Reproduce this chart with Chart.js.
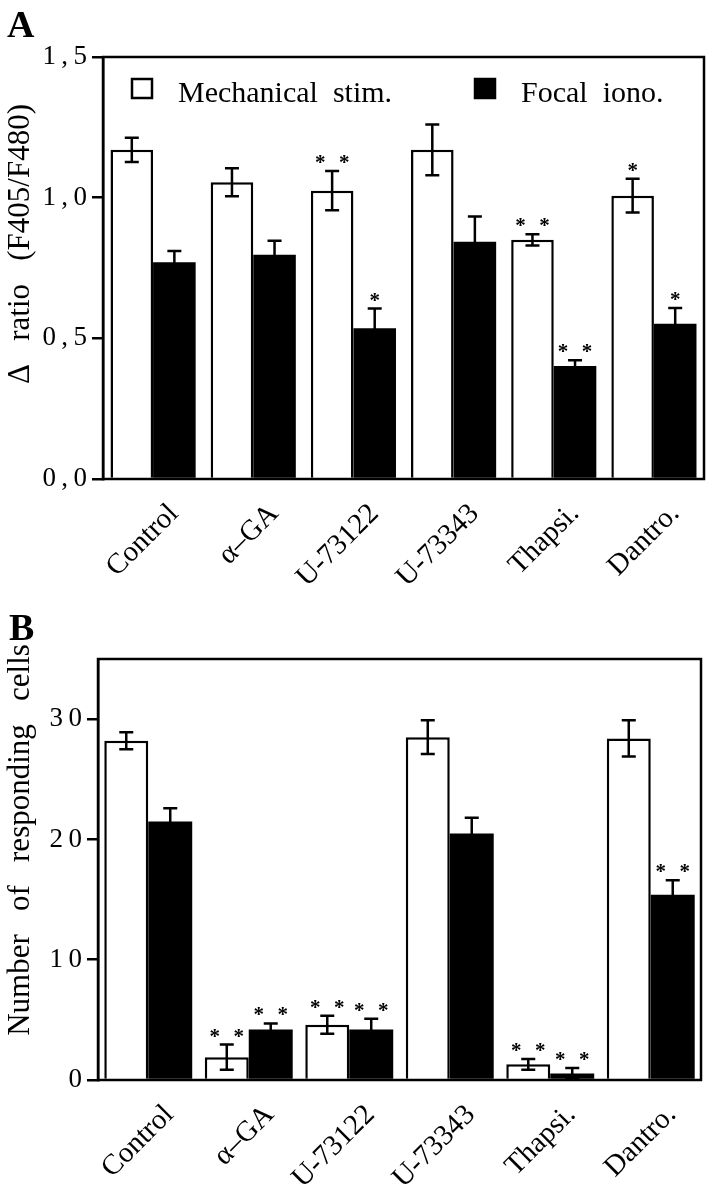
<!DOCTYPE html>
<html>
<head>
<meta charset="utf-8">
<script src="https://cdn.jsdelivr.net/npm/chart.js@4.4.0/dist/chart.umd.min.js"></script>
<style>
  body { margin: 0; background: #fff; }
  .panel { position: absolute; left: 0; width: 716px; height: 600px; }
</style>
</head>
<body>
<div class="panel" style="top:0"><canvas id="chartA" width="716" height="600"></canvas></div>
<div class="panel" style="top:600px"><canvas id="chartB" width="716" height="600"></canvas></div>
<script>
// Categories and series names
const categories = ['Control', 'α–GA', 'U-73122', 'U-73343', 'Thapsi.', 'Dantro.'];
const seriesNames = ['Mechanical stim.', 'Focal iono.'];

// Panel A: delta ratio (F405/F480)
const mechA = [1.17, 1.055, 1.025, 1.17, 0.85, 1.007];
const mechErrA = [0.043, 0.05, 0.07, 0.09, 0.02, 0.06];
const focalA = [0.77, 0.797, 0.536, 0.843, 0.402, 0.552];
const focalErrA = [0.04, 0.05, 0.07, 0.09, 0.02, 0.056];
const mechStarsA = [0, 0, 2, 0, 2, 1];
const focalStarsA = [0, 0, 1, 0, 2, 1];
const tickLabelsA = ['0,0', '0,5', '1,0', '1,5'];

// Panel B: number of responding cells
const mechB = [28.2, 1.9, 4.6, 28.5, 1.3, 28.4];
const mechErrB = [0.7, 1.05, 0.75, 1.4, 0.45, 1.5];
const focalB = [21.5, 4.2, 4.2, 20.5, 0.55, 15.4];
const focalErrB = [1.1, 0.5, 0.9, 1.3, 0.45, 1.2];
const mechStarsB = [0, 2, 2, 0, 2, 0];
const focalStarsB = [0, 2, 2, 0, 2, 2];
const tickLabelsB = ['0', '10', '20', '30'];

const SERIF = "'Liberation Serif', 'Times New Roman', serif";

// spread characters a bit, like the typeset labels
function spaced(s) {
    return s.split('').join('\u2009');
}

// error bars + significance stars
const errorBars = {
    id: 'errorBars',
    afterDatasetsDraw(chart) {
        const ctx = chart.ctx;
        const y = chart.scales.y;
        chart.data.datasets.forEach((ds, di) => {
            const meta = chart.getDatasetMeta(di);
            meta.data.forEach((bar, i) => {
                const v = ds.data[i], e = ds.errors[i];
                const top = y.getPixelForValue(v + e);
                const bot = y.getPixelForValue(v - e);
                ctx.save();
                ctx.strokeStyle = '#000';
                ctx.lineWidth = 2.5;
                ctx.beginPath();
                ctx.moveTo(bar.x, top); ctx.lineTo(bar.x, bot);
                ctx.moveTo(bar.x - 7, top); ctx.lineTo(bar.x + 7, top);
                ctx.moveTo(bar.x - 7, bot); ctx.lineTo(bar.x + 7, bot);
                ctx.stroke();
                const n = ds.stars[i];
                if (n) {
                    ctx.fillStyle = '#000';
                    ctx.font = 'bold 21px ' + SERIF;
                    ctx.textAlign = 'center';
                    ctx.textBaseline = 'alphabetic';
                    const xs = n === 2 ? [bar.x - 12, bar.x + 12] : [bar.x];
                    xs.forEach(sx => ctx.fillText('*', sx, top - 2));
                }
                ctx.restore();
            });
        });
    }
};

// box around the plot, panel letter, y title, inside legend
const decorations = {
    id: 'decorations',
    afterDraw(chart, args, opts) {
        const ctx = chart.ctx;
        const a = chart.chartArea;
        ctx.save();
        ctx.strokeStyle = '#000';
        ctx.lineWidth = 2.5;
        ctx.strokeRect(a.left, a.top, a.right - a.left, a.bottom - a.top);

        ctx.fillStyle = '#000';
        ctx.font = 'bold 38px ' + SERIF;
        ctx.textAlign = 'left';
        ctx.textBaseline = 'alphabetic';
        ctx.fillText(opts.letter, opts.letterX, opts.letterY);

        ctx.save();
        ctx.translate(21, opts.titleY);
        ctx.rotate(-Math.PI / 2);
        ctx.font = '31px ' + SERIF;
        ctx.textAlign = 'center';
        ctx.textBaseline = 'middle';
        ctx.fillText(opts.title, 0, 0);
        ctx.restore();

        if (opts.legend) {
            ctx.font = '30px ' + SERIF;
            ctx.textAlign = 'left';
            ctx.textBaseline = 'alphabetic';
            chart.data.datasets.forEach((ds, di) => {
                const lx = opts.legendX[di], ly = a.top + 21;
                ctx.fillStyle = ds.backgroundColor;
                ctx.fillRect(lx, ly, 22, 21);
                ctx.lineWidth = 2.5;
                ctx.strokeRect(lx + 1, ly + 1, 20, 19);
                ctx.fillStyle = '#000';
                ctx.fillText(ds.label.replace(' ', '  '), lx + 47, ly + 24);
            });
        }
        ctx.restore();
    }
};

function makeChart(id, p) {
    const ctx = document.getElementById(id).getContext('2d');
    return new Chart(ctx, {
        type: 'bar',
        data: {
            labels: categories,
            datasets: [
                {
                    label: seriesNames[0],
                    data: p.mech,
                    errors: p.mechErr,
                    stars: p.mechStars,
                    backgroundColor: '#ffffff',
                    borderColor: '#000000',
                    borderWidth: 2.5,
                    categoryPercentage: p.catPct,
                    barPercentage: 1.0
                },
                {
                    label: seriesNames[1],
                    data: p.focal,
                    errors: p.focalErr,
                    stars: p.focalStars,
                    backgroundColor: '#000000',
                    borderColor: '#000000',
                    borderWidth: 0,
                    categoryPercentage: p.catPct,
                    barPercentage: 1.0
                }
            ]
        },
        options: {
            responsive: false,
            animation: false,
            layout: {
                padding: { top: p.top, right: 716 - p.right, left: 0, bottom: 0 }
            },
            plugins: {
                legend: { display: false },
                tooltip: { enabled: false },
                decorations: p.deco
            },
            scales: {
                x: {
                    grid: { display: false },
                    border: { display: false },
                    ticks: {
                        color: '#000',
                        autoSkip: false,
                        minRotation: 45,
                        maxRotation: 45,
                        labelOffset: 21,
                        padding: 10,
                        font: { family: SERIF, size: 29 }
                    },
                    afterFit(scale) {
                        scale.height = 600 - p.bottom;
                        scale.paddingLeft = 0;
                        scale.paddingRight = 0;
                    }
                },
                y: {
                    min: 0,
                    max: p.max,
                    grid: {
                        drawOnChartArea: false,
                        drawTicks: true,
                        tickLength: 11,
                        color: '#000',
                        lineWidth: 2.5
                    },
                    border: { display: true, color: '#000', width: 2.5 },
                    ticks: {
                        stepSize: p.step,
                        includeBounds: false,
                        color: '#000',
                        padding: 5,
                        font: { family: SERIF, size: 27 },
                        callback: (v, i) => spaced(p.tickLabels[i])
                    },
                    afterFit(scale) {
                        scale.width = p.left;
                        scale.paddingTop = 0;
                        scale.paddingBottom = 0;
                    }
                }
            }
        },
        plugins: [errorBars, decorations]
    });
}

makeChart('chartA', {
    mech: mechA, mechErr: mechErrA, mechStars: mechStarsA,
    focal: focalA, focalErr: focalErrA, focalStars: focalStarsA,
    tickLabels: tickLabelsA, max: 1.5, step: 0.5,
    left: 103, right: 704, top: 57, bottom: 479, catPct: 0.85,
    deco: {
        letter: 'A', letterX: 7, letterY: 37,
        title: 'Δ   ratio   (F405/F480)', titleY: 244,
        legend: true, legendX: [131, 474]
    }
});

makeChart('chartB', {
    mech: mechB, mechErr: mechErrB, mechStars: mechStarsB,
    focal: focalB, focalErr: focalErrB, focalStars: focalStarsB,
    tickLabels: tickLabelsB, max: 35, step: 10,
    left: 98, right: 701, top: 59, bottom: 480, catPct: 0.875,
    deco: {
        letter: 'B', letterX: 9, letterY: 40,
        title: 'Number   of   responding   cells', titleY: 240,
        legend: false
    }
});
</script>
</body>
</html>
